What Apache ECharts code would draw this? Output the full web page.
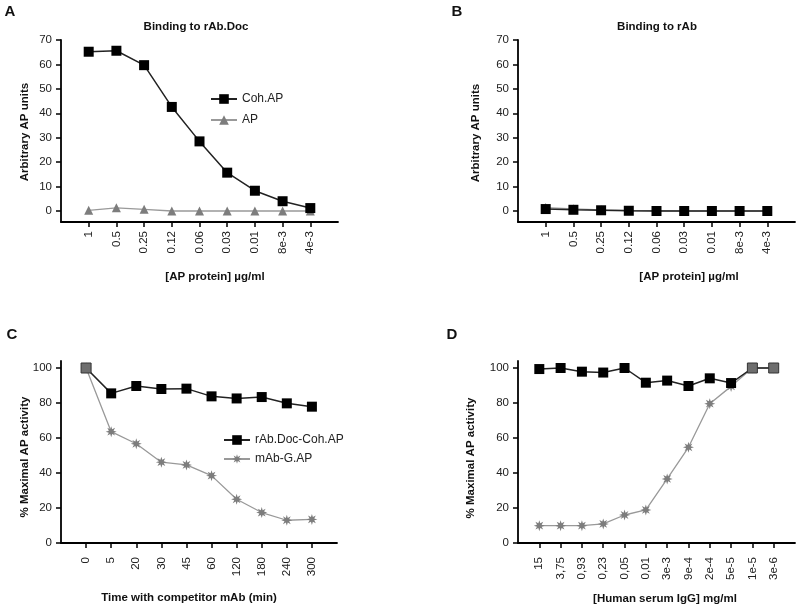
<!DOCTYPE html>
<html>
<head>
<meta charset="utf-8">
<script src="https://cdn.jsdelivr.net/npm/echarts@6/dist/echarts.min.js"></script>
<style>html,body{margin:0;padding:0;background:#fff}#c{width:800px;height:609px}</style>
</head>
<body>
<div id="c"></div>
<script>
// ---- data ----
const catsAB = ['1','0.5','0.25','0.12','0.06','0.03','0.01','8e-3','4e-3'];
const aCohAP = [65.2,65.6,59.7,42.6,28.5,15.7,8.3,4.0,1.2];
const aAP    = [0.3,1.3,0.7,0,0,0,0,0,0];
const bCohAP = [0.8,0.5,0.3,0.1,0,0,0,0,0];
const bAP    = [1.4,0.9,0.5,0.2,0.1,0,0,0,0];
const catsC  = ['0','5','20','30','45','60','120','180','240','300'];
const cDocCoh = [100,85.5,89.7,88,88.2,83.8,82.6,83.4,79.8,77.9];
const cMabG   = [100,63.6,56.7,46.2,44.6,38.5,25,17.4,13,13.5];
const catsD  = ['15','3,75','0,93','0,23','0,05','0,01','3e-3','9e-4','2e-4','5e-5','1e-5','3e-6'];
const dDocCoh = [99.4,100,97.9,97.4,100,91.6,92.8,89.7,94.1,91.4,100,100];
const dMabG   = [9.9,9.9,9.9,10.9,16,18.9,36.6,54.7,79.6,89.5,100,100];
const yTicksAB = [0,10,20,30,40,50,60,70];
const yTicksCD = [0,20,40,60,80,100];

// ---- helpers ----
const FONT = "'Liberation Sans', Arial, sans-serif";
function starPath(){
  let p = [];
  for (let k = 0; k < 16; k++) {
    const a = k * Math.PI / 8 - Math.PI/2;
    const r = k % 2 === 0 ? 10 : 4.6;
    p.push((k===0?'M':'L') + (r*Math.cos(a)).toFixed(2) + ' ' + (r*Math.sin(a)).toFixed(2));
  }
  return 'path://' + p.join(' ') + 'Z';
}
const STAR = starPath();
function idx(n){ return Array.from({length:n},(_,i)=>i); }
function xAxisFor(gi, cats, margin){
  const n = cats.length;
  return {
    type:'value', gridIndex: gi, min:-1, max:n,
    splitLine:{show:false},
    axisLine:{show:true, onZero:false, lineStyle:{color:'#000', width:1.8}},
    axisTick:{show:true, customValues: idx(n), length:5, lineStyle:{color:'#000', width:1.5}},
    axisLabel:{customValues: idx(n), rotate:90, margin:margin, fontSize:11.5, color:'#222', fontFamily:FONT,
      formatter: v => cats[Math.round(v)] || ''}
  };
}
function yAxisFor(gi, min, max, ticks){
  return {
    type:'value', gridIndex: gi, min:min, max:max,
    splitLine:{show:false},
    axisLine:{show:true, onZero:false, lineStyle:{color:'#000', width:1.8}},
    axisTick:{show:true, customValues: ticks, length:5, lineStyle:{color:'#000', width:1.5}},
    axisLabel:{customValues: ticks, margin:9, fontSize:11.5, color:'#222', fontFamily:FONT}
  };
}
function blackSeries(name, gi, vals, other){
  return {
    type:'line', name:name, xAxisIndex:gi, yAxisIndex:gi, z:3,
    symbol:'rect', symbolSize:10,
    itemStyle:{color:'#000'}, lineStyle:{color:'#222', width:1.5},
    data: vals.map((v,i)=> (other && other[i] === v)
      ? {value:[i,v], itemStyle:{color:'#6e6e6e', borderColor:'#333', borderWidth:1}}
      : [i,v])
  };
}
function graySeries(name, gi, vals, sym, size){
  return {
    type:'line', name:name, xAxisIndex:gi, yAxisIndex:gi, z:2,
    symbol:sym, symbolSize:size,
    itemStyle:{color:'#7d7d7d'}, lineStyle:{color:'#999', width:1.3},
    data: vals.map((v,i)=>[i,v])
  };
}
function txt(s, x, y, size, bold, rot){
  return {type:'text', x:x, y:y, rotation: rot||0,
    style:{text:s, fontSize:size, fontWeight: bold?'bold':'normal', fontFamily:FONT, fill:'#111',
      textAlign:'center', textVerticalAlign:'middle'}};
}

const chart = echarts.init(document.getElementById('c'));
chart.setOption({
  animation:false,
  backgroundColor:'#fff',
  grid:[
    {left:61, right:462, top:40, bottom:387},
    {left:518, right:5, top:40, bottom:387},
    {left:61, right:463, top:361, bottom:66},
    {left:518, right:5, top:361, bottom:66}
  ],
  xAxis:[xAxisFor(0,catsAB,9), xAxisFor(1,catsAB,9), xAxisFor(2,catsC,14), xAxisFor(3,catsD,14)],
  yAxis:[yAxisFor(0,-4.5,70,yTicksAB), yAxisFor(1,-4.5,70,yTicksAB),
         yAxisFor(2,0,104,yTicksCD), yAxisFor(3,0,104,yTicksCD)],
  legend:[
    {data:['Coh.AP','AP'], left:205, top:88, orient:'vertical', itemWidth:26, itemHeight:12, itemGap:9,
     textStyle:{fontSize:12, color:'#222', fontFamily:FONT}},
    {data:['rAb.Doc-Coh.AP','mAb-G.AP'], left:218, top:429, orient:'vertical', itemWidth:26, itemHeight:12, itemGap:7,
     textStyle:{fontSize:12, color:'#222', fontFamily:FONT}}
  ],
  series:[
    graySeries('AP',0,aAP,'triangle',9),
    blackSeries('Coh.AP',0,aCohAP),
    graySeries('AP',1,bAP,'triangle',9),
    blackSeries('Coh.AP',1,bCohAP),
    graySeries('mAb-G.AP',2,cMabG,STAR,11),
    blackSeries('rAb.Doc-Coh.AP',2,cDocCoh,cMabG),
    graySeries('mAb-G.AP',3,dMabG,STAR,11),
    blackSeries('rAb.Doc-Coh.AP',3,dDocCoh,dMabG)
  ],
  graphic:[
    txt('A',10,12,15,true), txt('B',457,12,15,true), txt('C',12,335,15,true), txt('D',452,335,15,true),
    txt('Binding to rAb.Doc',196,27,11.5,true), txt('Binding to rAb',657,27,11.5,true),
    txt('Arbitrary AP units',25,132,11.5,true,Math.PI/2),
    txt('Arbitrary AP units',476,133,11.5,true,Math.PI/2),
    txt('% Maximal AP activity',25,457,11.5,true,Math.PI/2),
    txt('% Maximal AP activity',471,458,11.5,true,Math.PI/2),
    txt('[AP protein] \u00b5g/ml',215,277,11.5,true),
    txt('[AP protein] \u00b5g/ml',689,277,11.5,true),
    txt('Time with competitor mAb (min)',189,598,11.5,true),
    txt('[Human serum IgG] mg/ml',665,599,11.5,true)
  ]
});
</script>
</body>
</html>
